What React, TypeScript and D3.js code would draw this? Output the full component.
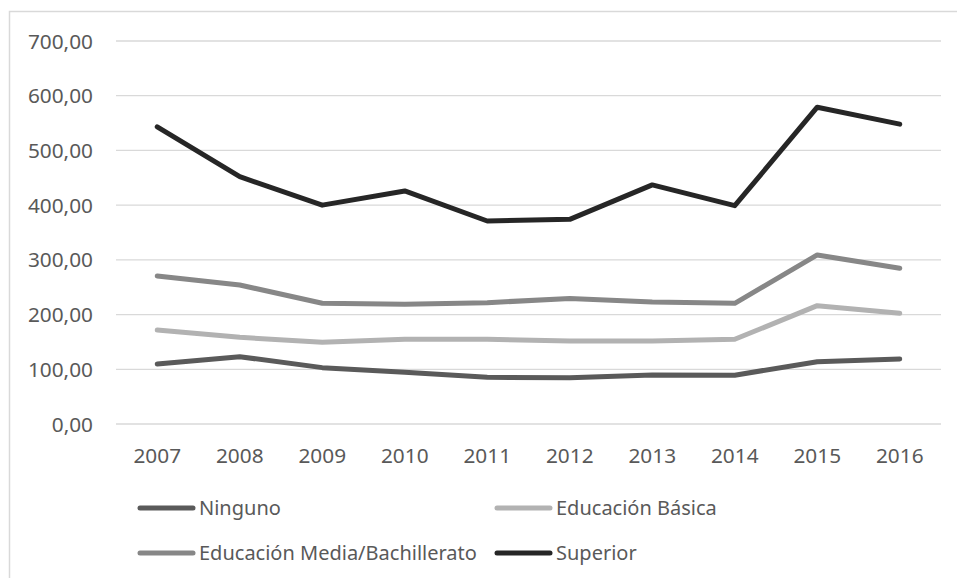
import React from "react";
import * as d3 from "d3";

const years = ["2007", "2008", "2009", "2010", "2011", "2012", "2013", "2014", "2015", "2016"];
const ninguno = [109.7, 123, 103, 94.5, 85.3, 84.7, 89.6, 89.2, 113.9, 118.8];
const basica = [171.8, 158.4, 149.3, 154.8, 154.8, 151.7, 151.7, 154.8, 216.3, 202.3];
const media = [270.5, 254, 220.6, 218.8, 221.7, 229.5, 223, 220.6, 309, 284.6];
const superior = [543, 452, 400, 426, 371, 374, 437, 399, 579, 548];
const yTicks = [0, 100, 200, 300, 400, 500, 600, 700];

const seriesNames = ["Ninguno", "Educación Básica", "Educación Media/Bachillerato", "Superior"];
const seriesColors = ["#5a5a5a", "#b2b2b2", "#878787", "#262626"];
const seriesValues = [ninguno, basica, media, superior];

const W = 957;
const H = 578;
const FONT = "'Noto Sans', 'Open Sans', sans-serif";

export default function App() {
  const x = d3.scaleBand<string>().domain(years).range([116, 941]);
  const y = d3.scaleLinear().domain([0, 700]).range([424, 41]);
  const fmt = (v: number) => v.toFixed(2).replace(".", ",");

  const line = d3
    .line<number>()
    .x((_, i) => (x(years[i]) as number) + x.bandwidth() / 2)
    .y((d) => y(d));

  const legendPos = [
    { lx: 140, ly: 508 },
    { lx: 497, ly: 508 },
    { lx: 140, ly: 553 },
    { lx: 497, ly: 553 },
  ];

  return (
    <svg
      width={W}
      height={H}
      style={{ position: "absolute", left: 0, top: 0, background: "#fff" }}
      fontFamily={FONT}
    >
      <rect x={0} y={0} width={W} height={H} fill="#fff" />
      <rect x={9.5} y={11.5} width={980} height={600} fill="none" stroke="#d9d9d9" strokeWidth={1.5} />

      {yTicks.map((t) => (
        <g key={t}>
          <line x1={116} x2={941} y1={y(t)} y2={y(t)} stroke="#d9d9d9" strokeWidth={1.3} />
          <text x={93} y={y(t) + 7.5} textAnchor="end" fontSize={20.8} fill="#595959">
            {fmt(t)}
          </text>
        </g>
      ))}

      {years.map((yr) => (
        <text
          key={yr}
          x={(x(yr) as number) + x.bandwidth() / 2}
          y={462.5}
          textAnchor="middle"
          fontSize={20.8}
          fill="#595959"
        >
          {yr}
        </text>
      ))}

      {seriesValues.map((vals, i) => (
        <path
          key={seriesNames[i]}
          d={line(vals) || ""}
          fill="none"
          stroke={seriesColors[i]}
          strokeWidth={5}
          strokeLinejoin="round"
          strokeLinecap="round"
        />
      ))}

      {seriesNames.map((name, i) => (
        <g key={name}>
          <line
            x1={legendPos[i].lx}
            x2={legendPos[i].lx + 53}
            y1={legendPos[i].ly}
            y2={legendPos[i].ly}
            stroke={seriesColors[i]}
            strokeWidth={5}
            strokeLinecap="round"
          />
          <text x={legendPos[i].lx + 59} y={legendPos[i].ly + 7} fontSize={20} fill="#595959">
            {name}
          </text>
        </g>
      ))}
    </svg>
  );
}
